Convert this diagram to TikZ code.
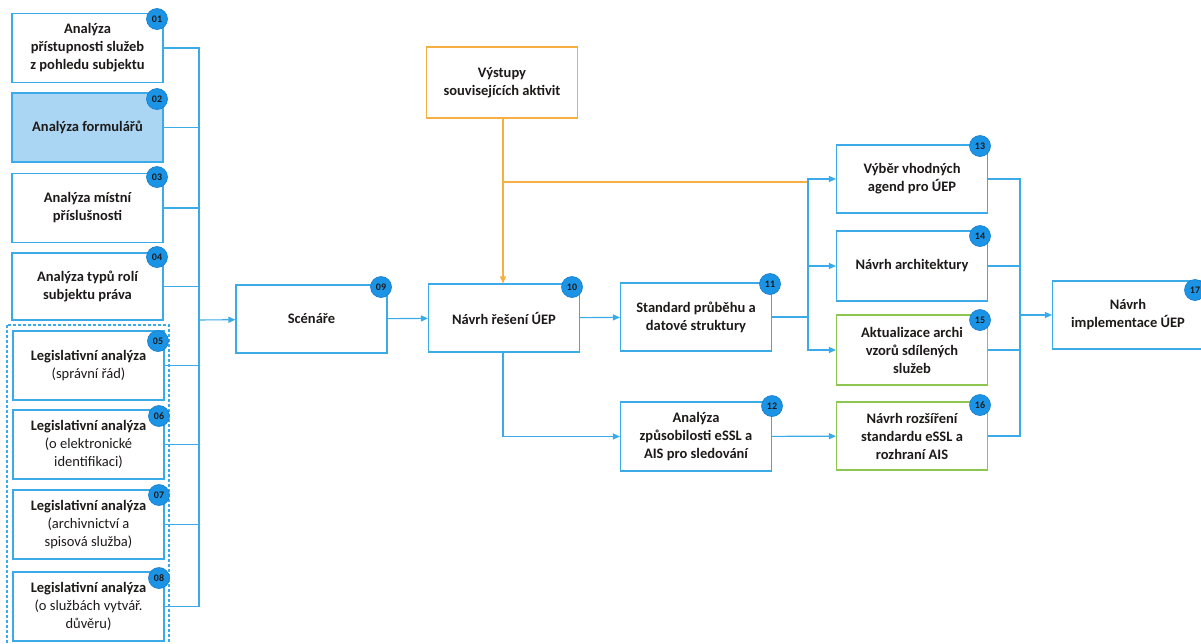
\documentclass[tikz,border=0pt]{standalone}
\usepackage{fontspec}
\setmainfont{Carlito}
\usetikzlibrary{arrows.meta}
\definecolor{lineblue}{RGB}{58,170,232}
\definecolor{badgeblue}{RGB}{28,148,230}
\definecolor{badgeedge}{RGB}{22,122,205}
\definecolor{formfill}{RGB}{170,213,243}
\definecolor{outorange}{RGB}{246,176,66}
\definecolor{boxgreen}{RGB}{140,198,80}
\definecolor{txt}{RGB}{30,26,26}

\begin{document}
\begin{tikzpicture}[x=1pt, y=-1pt,
  box/.style={draw=lineblue, line width=1.1pt, fill=white, minimum width=151pt,
    minimum height=69pt, inner sep=2pt, align=center, text=txt,
    font=\bfseries\fontsize{14.5}{18}\selectfont},
  greenbox/.style={box, draw=boxgreen},
  link/.style={draw=lineblue, line width=1.1pt},
  arr/.style={link, -{Triangle[length=7pt,width=6pt]}},
  badge/.style={circle, fill=badgeblue, draw=badgeedge, line width=0.6pt,
    inner sep=0pt, minimum size=21pt, text=txt,
    font=\bfseries\fontsize{10}{10}\selectfont}]
  \clip (0,0) rectangle (1201,643);

  % Group of legal analyses
  \draw[lineblue, line width=1.1pt, dash pattern=on 3pt off 2pt] (7,325) rectangle (169,650);

  % Left boxes
  \node[box] (b1) at (87.5,48) {Analýza\\přístupnosti služeb\\z pohledu subjektu};
  \node[box, fill=formfill] (b2) at (87.5,127.5) {Analýza formulářů};
  \node[box] (b3) at (87.5,208) {Analýza místní\\příslušnosti};
  \node[box, minimum height=67pt] (b4) at (87.5,286.5) {Analýza typů rolí\\subjektu práva};
  \node[box] (b5) at (88.5,365.5) {Legislativní analýza\\\textmd{(správní řád)}};
  \node[box] (b6) at (88.5,444.5) {Legislativní analýza\\\textmd{(o elektronické}\\\textmd{identifikaci)}};
  \node[box] (b7) at (88.5,524.5) {Legislativní analýza\\\textmd{(archivnictví a}\\\textmd{spisová služba)}};
  \node[box] (b8) at (88.5,606.5) {Legislativní analýza\\\textmd{(o službách vytvář.}\\\textmd{důvěru)}};

  % Middle boxes
  \node[box, minimum height=68pt] (scen) at (311.5,319) {Scénáře};
  \node[box, minimum height=68pt] (navrh) at (504,318) {Návrh řešení ÚEP};
  \node[box, draw=outorange, minimum height=71pt] (vyst) at (502,82.5) {Výstupy\\souvisejících aktivit};
  \node[box, minimum height=68pt] (std) at (696,317) {Standard průběhu a\\datové struktury};
  \node[box] (essl) at (696,436.5) {Analýza\\způsobilosti eSSL a\\AIS pro sledování};

  % Right boxes
  \node[box, minimum height=68pt] (agend) at (912,179) {Výběr vhodných\\agend pro ÚEP};
  \node[box, minimum height=70pt] (arch) at (912,266) {Návrh architektury};
  \node[greenbox, minimum height=70pt] (vzor) at (912,350) {Aktualizace archi\\vzorů sdílených\\služeb};
  \node[greenbox, minimum height=68pt] (rozs) at (912,436) {Návrh rozšíření\\standardu eSSL a\\rozhraní AIS};
  \node[box, minimum height=68pt] (impl) at (1128,315) {Návrh\\implementace ÚEP};

  % Bus points
  \coordinate (busL) at (199,320);
  \coordinate (busM) at (808,317);
  \coordinate (busR) at (1020,315);
  \coordinate (vyst2) at (503,182);
  \coordinate (vyst3) at (808,182);

  % Connectors
  \foreach \i in {1,...,8}
    \draw[link] (b\i.east) -| (busL);
  \draw[arr] (busL) -- (scen);
  \draw[arr] (scen) -- (navrh);
  \draw[outorange, line width=1.1pt, -{Triangle[length=7pt,width=6pt]}] (vyst.south -| vyst2) -- (vyst2 |- navrh.north);
  \draw[outorange, line width=1.1pt] (vyst2) -- (vyst3);
  \draw[arr] (navrh) -- (std);
  \draw[arr] (navrh.south -| vyst2) |- (essl);
  \draw[link] (std) -- (busM);
  \draw[arr] (busM) |- (agend);
  \draw[arr] (busM) |- (arch);
  \draw[arr] (busM) |- (vzor);
  \draw[arr] (essl) -- (rozs);
  \foreach \n in {agend,arch,vzor,rozs}
    \draw[link] (\n.east) -| (busR);
  \draw[arr] (busR) -- (impl);

  % Badges
  \foreach \n/\x/\y in {01/157/19, 02/157/99, 03/157/177, 04/157/257,
      05/158/341, 06/159/416, 07/159/495, 08/159/578, 09/381/287, 10/572/287,
      11/770/284, 12/772/406, 13/980/146, 14/980/236, 15/980/320, 16/980/405,
      17/1195/290}
    \node[badge] (c\n) at (\x,\y) {\n};
\end{tikzpicture}
\end{document}
